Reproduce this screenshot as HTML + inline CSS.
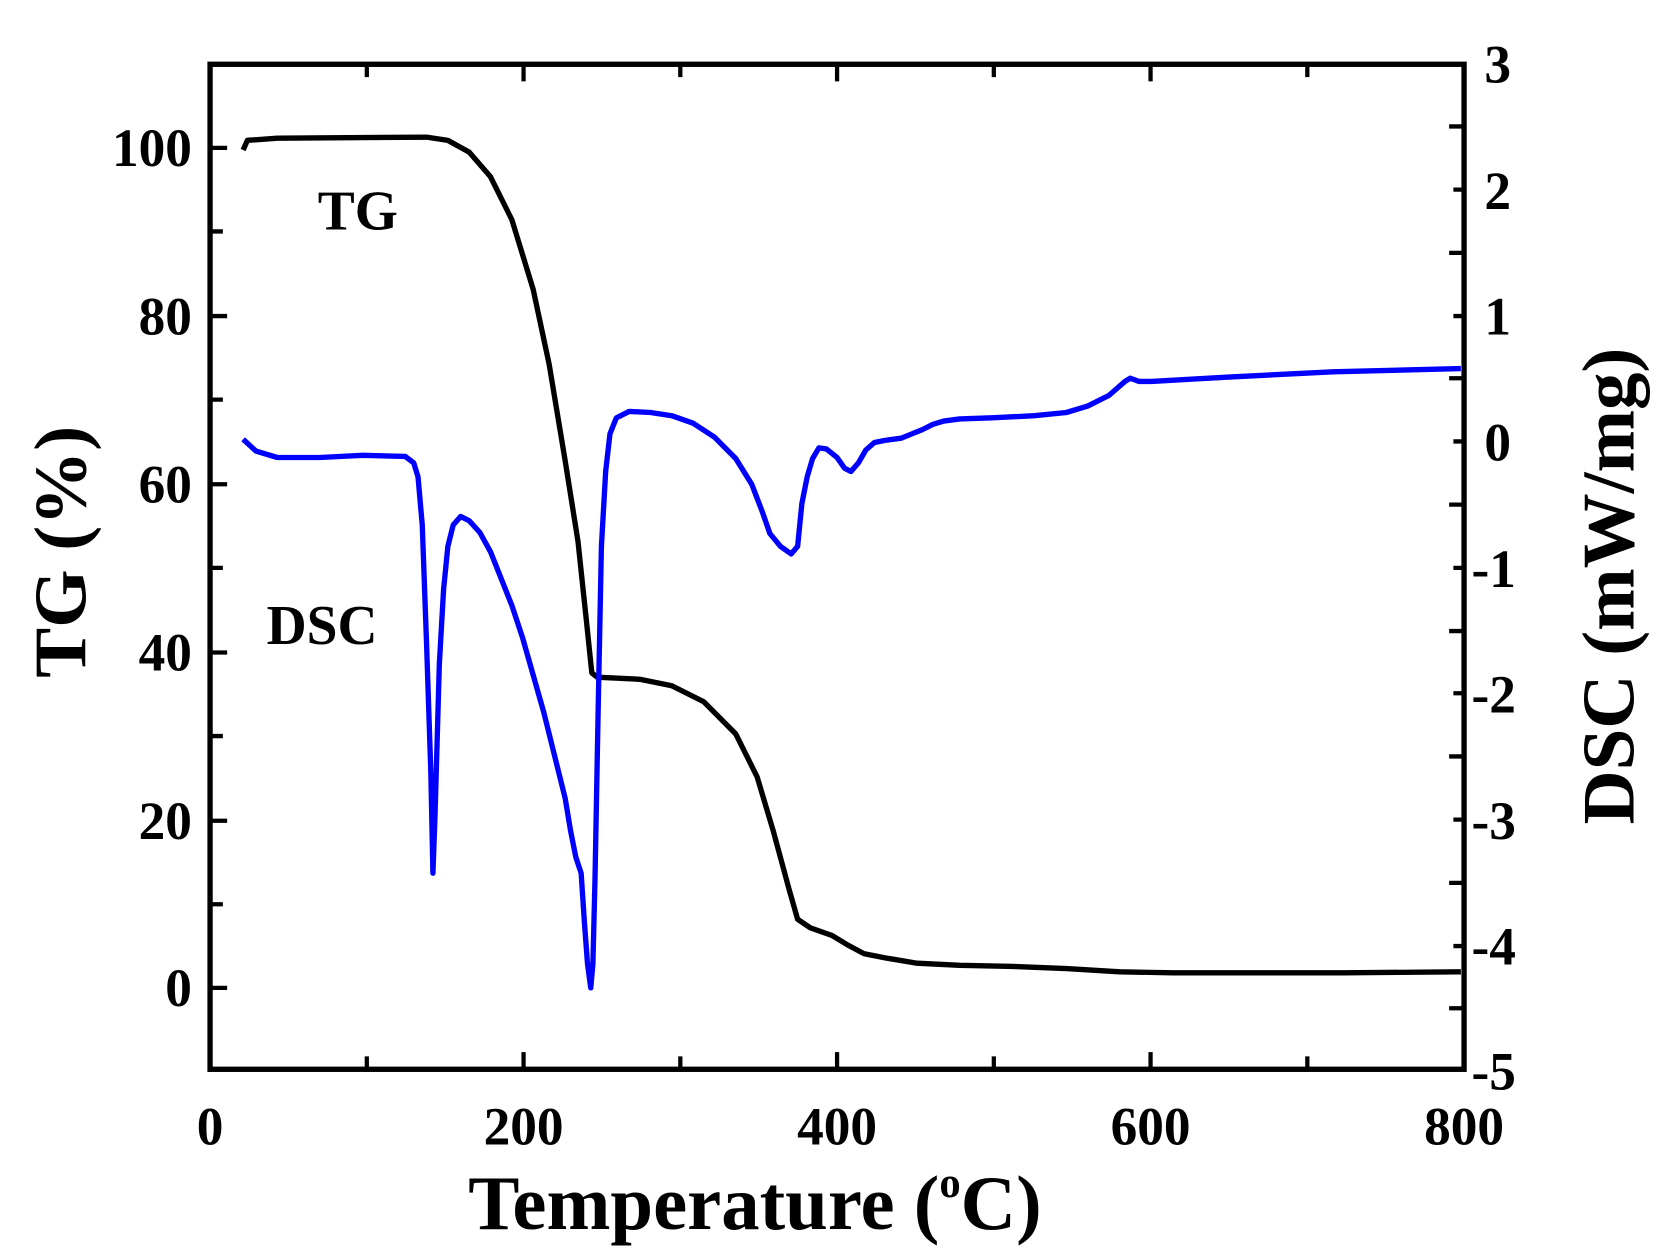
<!DOCTYPE html>
<html><head><style>html,body{margin:0;padding:0;background:#fff}svg{display:block}</style></head><body>
<svg width="1672" height="1260" viewBox="0 0 1568 1176" preserveAspectRatio="none" xmlns="http://www.w3.org/2000/svg" font-family="'Liberation Serif',serif" font-weight="bold">
<rect x="197" y="60" width="1176" height="938" fill="none" stroke="#000" stroke-width="5"/>
<g stroke="#000" stroke-width="4">
<path d="M344 998v-12M491 998v-16M638 998v-12M785 998v-16M932 998v-12M1079 998v-16M1226 998v-12
M344 60v12M491 60v16M638 60v12M785 60v16M932 60v12M1079 60v16M1226 60v12
M197 138h16M197 216h12M197 295h16M197 373h12M197 452h16M197 530h12M197 609h16M197 687h12M197 766h16M197 844h12M197 922h16
M1373 118h-14M1373 177h-10M1373 236h-14M1373 295h-10M1373 353h-14M1373 412h-10M1373 471h-14M1373 530h-10M1373 589h-14M1373 647h-10M1373 706h-14M1373 765h-10M1373 824h-14M1373 883h-10M1373 941h-14"/>
</g>
<g font-size="50" text-anchor="end">
<text x="180" y="155">100</text><text x="180" y="312">80</text><text x="180" y="469">60</text><text x="180" y="626">40</text><text x="180" y="783">20</text><text x="180" y="939">0</text>
</g>
<g font-size="50" text-anchor="start">
<text x="1392" y="77">3</text><text x="1392" y="195">2</text><text x="1392" y="312">1</text><text x="1392" y="430">0</text><text x="1380" y="548">-1</text><text x="1380" y="665">-2</text><text x="1380" y="783">-3</text><text x="1380" y="900">-4</text><text x="1380" y="1017">-5</text>
</g>
<g font-size="50" text-anchor="middle">
<text x="197" y="1068">0</text><text x="491" y="1068">200</text><text x="785" y="1068">400</text><text x="1079" y="1068">600</text><text x="1373" y="1068">800</text>
</g>
<text x="708" y="1147" font-size="72" text-anchor="middle">Temperature (<tspan font-size="40" dy="-30">o</tspan><tspan dy="30">C)</tspan></text>
<text transform="translate(80,515) rotate(-90)" font-size="70" text-anchor="middle">TG (%)</text>
<text transform="translate(1532,547) rotate(-90)" font-size="70" text-anchor="middle">DSC (mW/mg)</text>
<text x="298" y="214" font-size="52">TG</text>
<text x="250" y="601" font-size="52">DSC</text>
<polyline fill="none" stroke="#000" stroke-width="5" stroke-linejoin="round" points="228,140 232,131 260,129 400,128 420,131 440,142 460,165 480,205 500,270 515,340 530,430 542,505 550,580 555,628 560,632 600,634 630,640 660,655 690,685 710,725 725,775 740,830 748,858 760,866 780,873 795,882 810,890 830,894 860,899 900,901 950,902 1000,904 1050,907 1100,908 1260,908 1370,907"/>
<polyline fill="none" stroke="#0000ff" stroke-width="5" stroke-linejoin="round" points="228,410 240,421 260,427 300,427 340,425 380,426 388,432 392,445 396,490 400,600 404,720 406,815 408,760 412,620 416,550 420,510 425,490 432,482 440,486 450,497 460,515 470,540 480,565 490,595 500,630 510,665 520,705 530,745 535,775 540,800 545,815 548,860 551,900 554,922 556,900 558,820 561,660 564,510 568,440 572,405 578,390 590,384 610,385 630,388 650,395 670,408 690,428 705,452 715,478 722,498 732,510 742,517 748,510 752,470 757,445 762,428 768,418 775,419 785,427 792,437 798,440 805,432 812,420 820,413 830,411 845,409 855,405 865,401 875,396 885,393 900,391 930,390 970,388 1000,385 1020,379 1040,369 1055,356 1060,353 1068,356 1080,356 1150,352 1250,347 1370,344"/>
</svg>
</body></html>
